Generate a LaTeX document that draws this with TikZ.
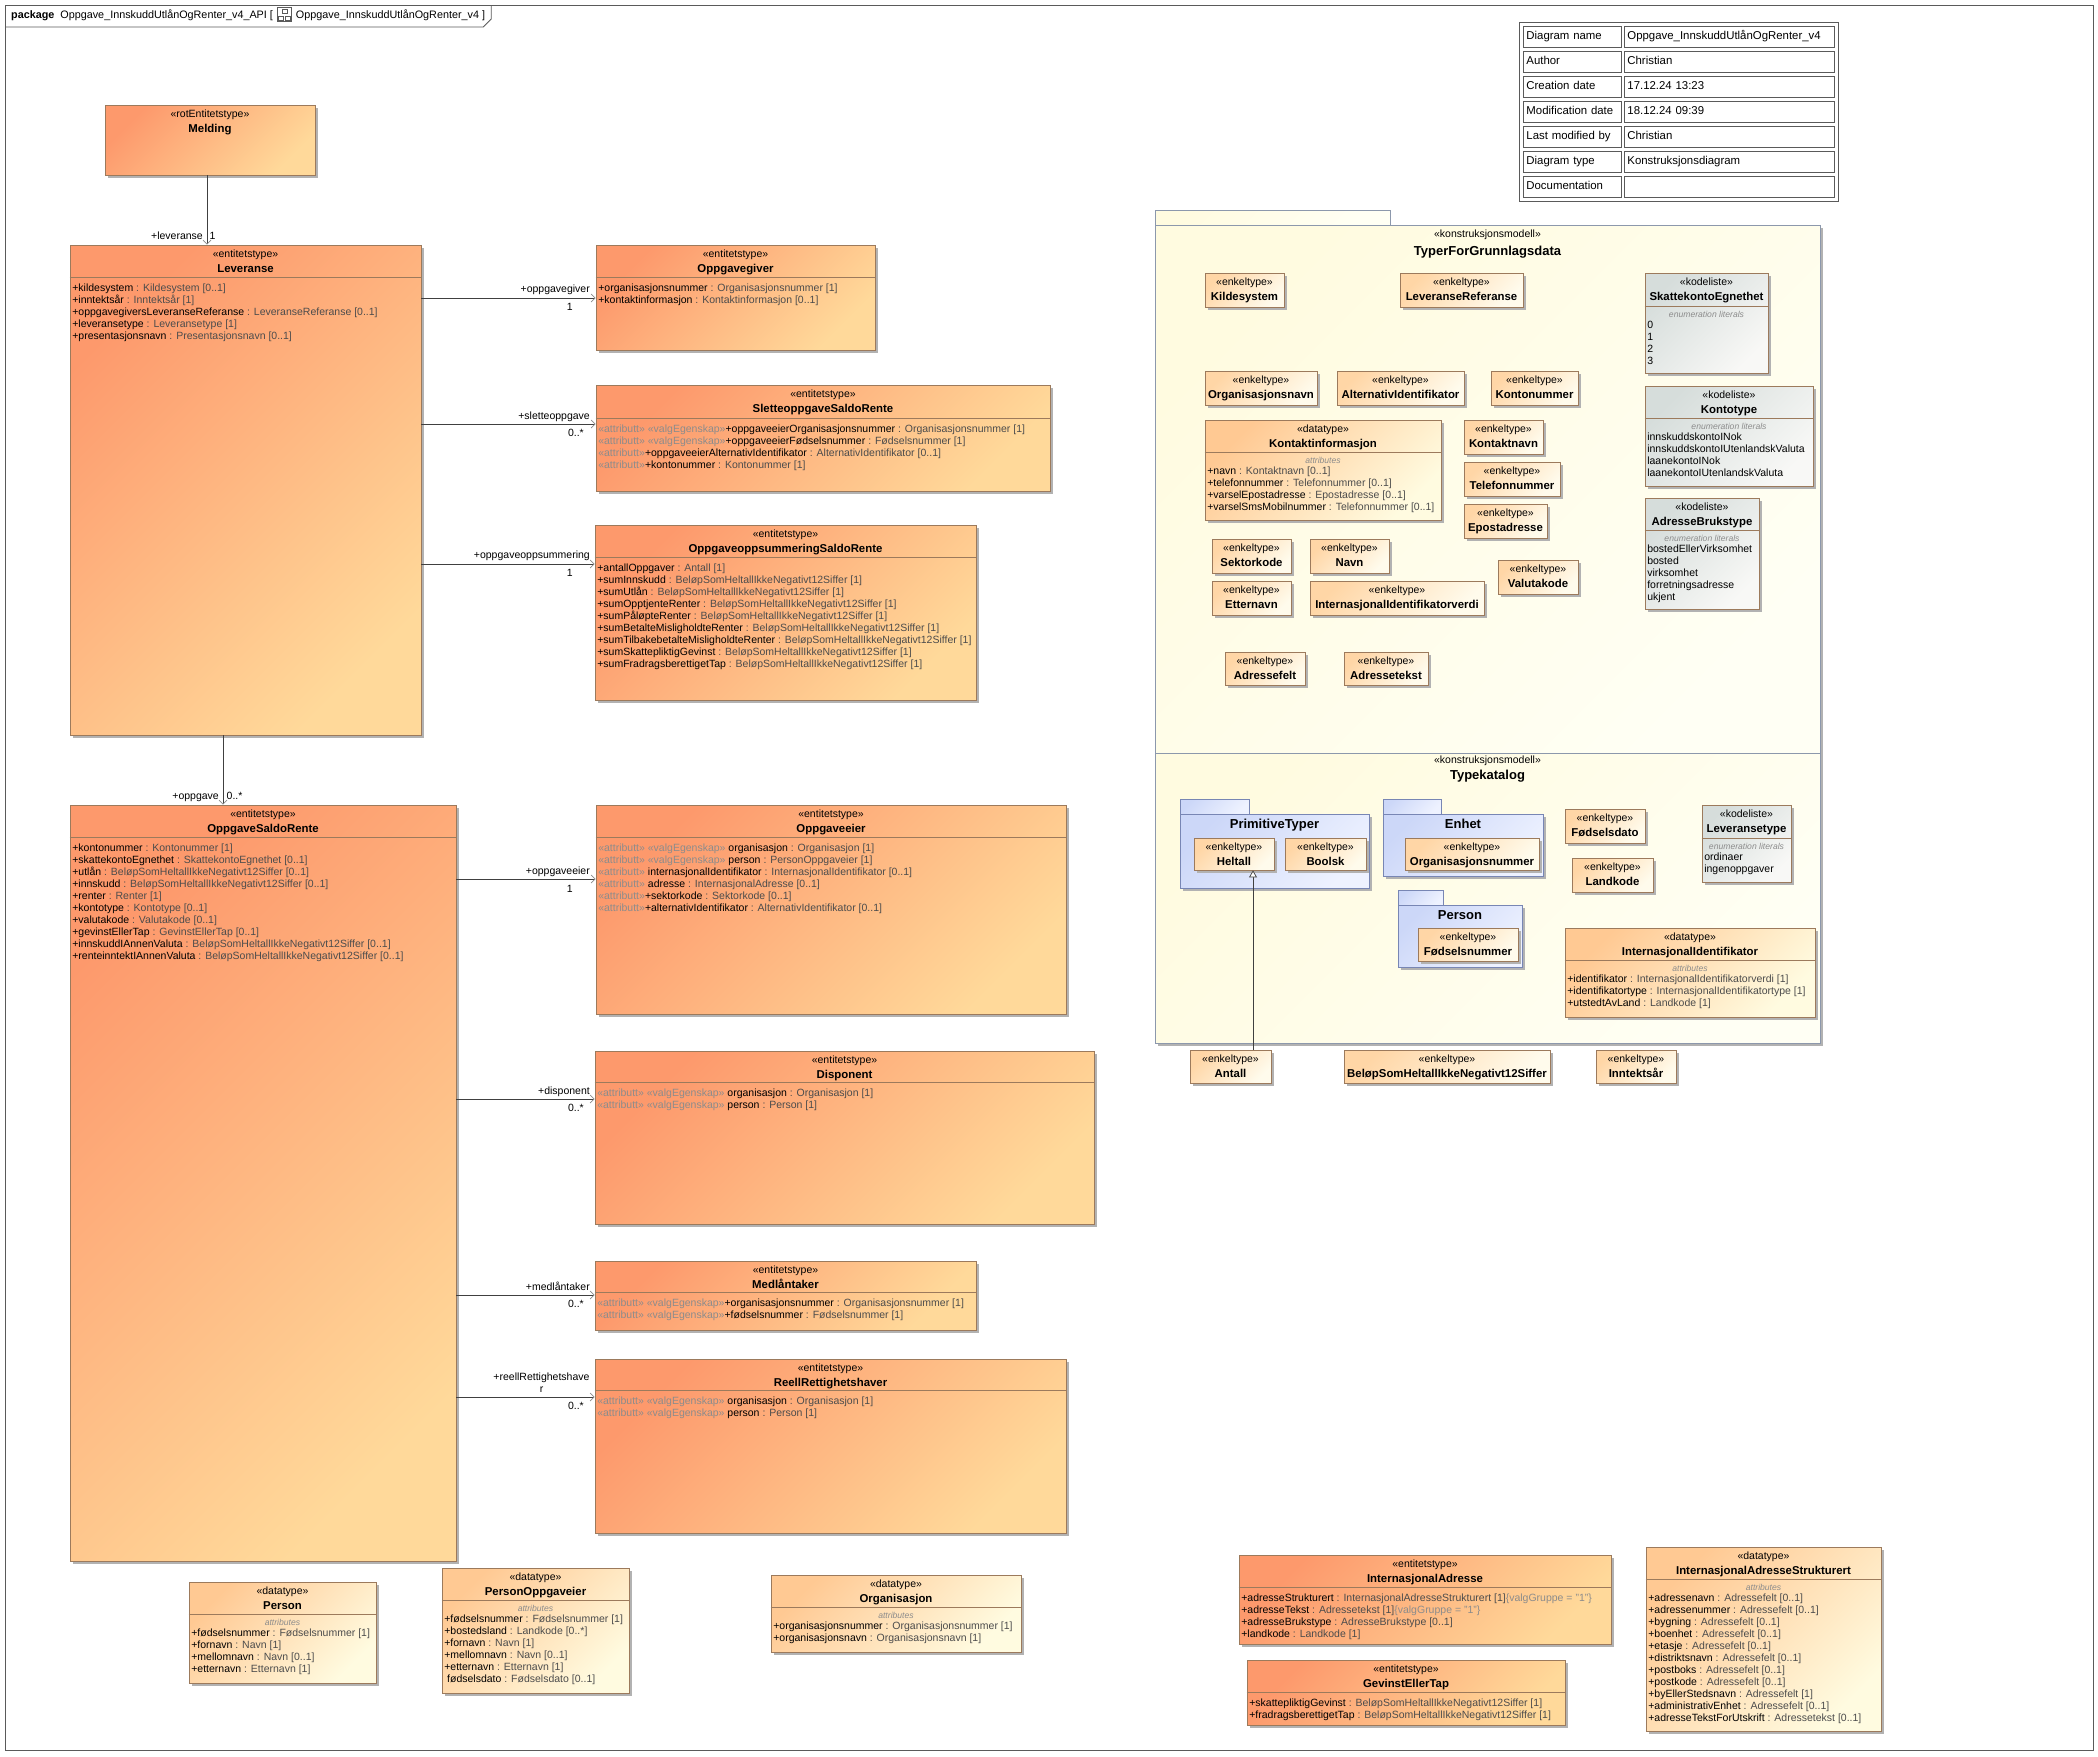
\documentclass[tikz,border=0pt]{standalone}
\usepackage{fontspec}
\setmainfont{Liberation Sans}
\usetikzlibrary{arrows.meta, positioning, fit}

\definecolor{entA}{HTML}{FD996C}
\definecolor{entB}{HTML}{FFD99A}
\definecolor{dtA}{HTML}{FFC993}
\definecolor{dtB}{HTML}{FFFBE0}
\definecolor{enkA}{HTML}{FFD6A6}
\definecolor{enkB}{HTML}{FFFBEC}
\definecolor{kodA}{HTML}{D6DDDB}
\definecolor{kodB}{HTML}{F8F8F6}
\definecolor{pkgA}{HTML}{CCD7F8}
\definecolor{pkgB}{HTML}{EEF2FF}
\definecolor{modA}{HTML}{FFFBE0}
\definecolor{modB}{HTML}{FFFFF4}
\definecolor{boxc}{HTML}{9C7A5C}
\definecolor{pkgc}{HTML}{7886B4}
\definecolor{modc}{HTML}{8C98AC}
\definecolor{shadc}{HTML}{B2B2B2}
\definecolor{linec}{HTML}{404040}
\definecolor{arrc}{HTML}{8A8A8A}
\definecolor{typec}{HTML}{4C4C4C}
\definecolor{stc}{HTML}{8C8C8C}
\definecolor{framec}{HTML}{5A5A5A}

\newcommand{\fattr}{\fontsize{10.5}{12}\selectfont}
\newcommand{\fname}{\fontsize{11.4}{13}\selectfont\bfseries}
\newcommand{\fsec}{\fontsize{8.6}{10}\selectfont\itshape}
\newcommand{\fpkg}{\fontsize{13}{15}\selectfont\bfseries}
\newcommand{\fmeta}{\fontsize{11.4}{13}\selectfont}
\newcommand{\fhdr}{\fontsize{10.8}{13}\selectfont}

\newcommand{\ty}[1]{\textcolor{typec}{#1}}
\newcommand{\stp}[1]{\textcolor{stc}{#1}}
\newcommand{\atr}[2]{#1\ \ty{: #2}}

% class box: shadow, gradient and a named frame node
\newcommand{\umlbox}[6]{%
  \fill[shadc] ({#2+3},{#3+3}) rectangle ({#4+3},{#5+3});
  \shade[#6] (#2,#3) rectangle (#4,#5);
  \node[boxframe, fit={(#2,#3) (#4,#5)}] (#1) {};
}
% stereotype and name
\newcommand{\umlhead}[3]{%
  \node[stereo, anchor=base] (#1-st) at ([yshift=-13pt]#1.north) {«#2»};
  \node[clsname, anchor=base] (#1-nm) at ([yshift=-28pt]#1.north) {#3};
}
% compartment line
\newcommand{\umlsep}[2]{%
  \draw[sepline] ([yshift=-#2pt]#1.north west) coordinate (#1-sep)
    -- ([yshift=-#2pt]#1.north east) coordinate[midway] (#1-sepc);
}
\newcommand{\umlattrs}[2]{%
  \node[attrs, anchor=north west] (#1-at) at ([shift={(2.5pt,-5pt)}]#1-sep) {\rule{0pt}{8.5pt}#2};
}
\newcommand{\umlsec}[3]{%
  \node[seclabel, anchor=base] (#1-lb) at ([yshift=-11pt]#1-sepc) {#2};
  \node[attrs, anchor=north west] (#1-at) at ([shift={(2.5pt,-13.5pt)}]#1-sep) {\rule{0pt}{8.5pt}#3};
}
% small package: name, tabL, tabT, tabR, bodyT, bodyR, bodyB, title
\newcommand{\umlpkg}[8]{%
  \fill[shadc] ({#2+3},{#5+3}) rectangle ({#6+3},{#7+3});
  \shade[pkgfill] (#2,#3) rectangle (#4,#5);
  \draw[pkgc, line width=0.8pt] (#2,#5) -- (#2,#3) -- (#4,#3) -- (#4,#5);
  \shade[pkgfill] (#2,#5) rectangle (#6,#7);
  \node[draw=pkgc, line width=0.8pt, inner sep=0pt, fit={(#2,#5) (#6,#7)}] (#1) {};
  \node[pkgname, anchor=base] (#1-nm) at ([yshift=-14.5pt]#1.north) {#8};
}

\tikzset{
  boxframe/.style={draw=boxc, line width=0.8pt, inner sep=0pt},
  sepline/.style={draw=boxc, line width=0.8pt},
  entfill/.style={top color=entA, bottom color=entB, shading angle=45},
  dtfill/.style={top color=dtA, bottom color=dtB, shading angle=45},
  enkfill/.style={top color=enkA, bottom color=enkB, shading angle=45},
  kodfill/.style={top color=kodA, bottom color=kodB, shading angle=45},
  pkgfill/.style={top color=pkgA, bottom color=pkgB, shading angle=45},
  modfill/.style={top color=modA, bottom color=modB, shading angle=45},
  stereo/.style={font=\fattr, inner sep=0pt},
  clsname/.style={font=\fname, inner sep=0pt},
  pkgname/.style={font=\fpkg, inner sep=0pt},
  attrs/.style={font=\fattr, align=left, inner sep=0pt},
  seclabel/.style={font=\fsec, text=stc, inner sep=0pt},
  lbl/.style={font=\fattr, inner sep=0pt},
  mcell/.style={draw=framec, line width=0.8pt, inner xsep=3pt, inner ysep=0pt,
    minimum height=21pt, font=\fmeta, align=left, text height=8.5pt, text depth=2.5pt},
  assoc/.style={draw=linec, line width=0.8pt,
    -{Straight Barb[length=4pt, width=8pt, line width=0.7pt, color=arrc]}},
  gen/.style={draw=linec, line width=0.8pt,
    -{Triangle[length=7pt, width=8pt, line width=0.7pt, fill=white]}},
}

\begin{document}
\begin{tikzpicture}[x=1pt, y=-1pt]
\useasboundingbox (0,0) rectangle (2098,1756);

% diagram frame
\draw[framec, line width=0.8pt] (5,5) rectangle (2093,1750);
\node[font=\fhdr, inner sep=0pt, anchor=base west] (hdr) at (11,18)
  {\textbf{package}\ \ Oppgave\_InnskuddUtlånOgRenter\_v4\_API [};
\node[draw=framec, line width=0.6pt, minimum width=14pt, minimum height=14pt, inner sep=0pt,
  right=4pt of hdr] (hdricon) {};
\draw[framec, line width=0.5pt] ([shift={(-2.5pt,-2pt)}]hdricon.north) rectangle ([shift={(2.5pt,-6pt)}]hdricon.north);
\draw[framec, line width=0.5pt] ([shift={(-6pt,2pt)}]hdricon.south) rectangle ([shift={(-1pt,6pt)}]hdricon.south);
\draw[framec, line width=0.5pt] ([shift={(1pt,2pt)}]hdricon.south) rectangle ([shift={(6pt,6pt)}]hdricon.south);
\node[font=\fhdr, inner sep=0pt, right=4pt of hdricon] (hdr2) {Oppgave\_InnskuddUtlånOgRenter\_v4 ]};
\draw[framec, line width=0.8pt] (5,27) -- ([xshift=-2pt]hdr2.east |- 0,27)
  -- ([xshift=6pt]hdr2.east |- 0,19) -- ([xshift=6pt]hdr2.east |- 0,5);

% diagram info table
\draw[framec, line width=0.8pt] (1519,22) rectangle (1838,201);
\foreach \k/\a/\b in {0/Diagram name/Oppgave\_InnskuddUtlånOgRenter\_v4, 1/Author/Christian,
    2/Creation date/17.12.24 13:23, 3/Modification date/18.12.24 09:39,
    4/Last modified by/Christian, 5/Diagram type/Konstruksjonsdiagram, 6/Documentation/} {
  \node[mcell, text width=92pt, anchor=north west] (md-a\k) at (1523, {26+25*\k}) {\a};
  \node[mcell, text width=204pt, anchor=north west] (md-b\k) at (1624, {26+25*\k}) {\b};
}

% model packages
\fill[shadc] (1158,228) rectangle (1823,1046);
\shade[modfill] (1155,210) rectangle (1390,225);
\draw[modc, line width=0.8pt] (1155,225) -- (1155,210) -- (1390,210) -- (1390,225);
\shade[modfill] (1155,225) rectangle (1820,753);
\node[draw=modc, line width=0.8pt, inner sep=0pt, fit={(1155,225) (1820,753)}] (tgd) {};
\node[stereo, anchor=base] (tgd-st) at ([yshift=-12.5pt]tgd.north) {«konstruksjonsmodell»};
\node[pkgname, anchor=base] (tgd-nm) at ([yshift=-30.5pt]tgd.north) {TyperForGrunnlagsdata};
\shade[modfill] (1155,753) rectangle (1820,1043);
\node[draw=modc, line width=0.8pt, inner sep=0pt, fit={(1155,753) (1820,1043)}] (tkat) {};
\node[stereo, anchor=base] (tkat-st) at ([yshift=-10.5pt]tkat.north) {«konstruksjonsmodell»};
\node[pkgname, anchor=base] (tkat-nm) at ([yshift=-26.5pt]tkat.north) {Typekatalog};

% simple types in TyperForGrunnlagsdata
\umlbox{kilde}{1205}{273}{1284}{307}{enkfill} \umlhead{kilde}{enkeltype}{Kildesystem}
\umlbox{levref}{1400}{273}{1523}{307}{enkfill} \umlhead{levref}{enkeltype}{LeveranseReferanse}
\umlbox{orgnavn}{1205}{371}{1317}{405}{enkfill} \umlhead{orgnavn}{enkeltype}{Organisasjonsnavn}
\umlbox{altid}{1337}{371}{1464}{405}{enkfill} \umlhead{altid}{enkeltype}{AlternativIdentifikator}
\umlbox{konto}{1491}{371}{1578}{405}{enkfill} \umlhead{konto}{enkeltype}{Kontonummer}
\umlbox{ktnavn}{1464}{420}{1543}{454}{enkfill} \umlhead{ktnavn}{enkeltype}{Kontaktnavn}
\umlbox{tlf}{1464}{462}{1560}{496}{enkfill} \umlhead{tlf}{enkeltype}{Telefonnummer}
\umlbox{epost}{1464}{504}{1547}{538}{enkfill} \umlhead{epost}{enkeltype}{Epostadresse}
\umlbox{sektor}{1212}{539}{1291}{573}{enkfill} \umlhead{sektor}{enkeltype}{Sektorkode}
\umlbox{navn}{1310}{539}{1389}{573}{enkfill} \umlhead{navn}{enkeltype}{Navn}
\umlbox{valuta}{1498}{560}{1578}{594}{enkfill} \umlhead{valuta}{enkeltype}{Valutakode}
\umlbox{ettern}{1212}{581}{1291}{615}{enkfill} \umlhead{ettern}{enkeltype}{Etternavn}
\umlbox{iidv}{1310}{581}{1484}{615}{enkfill} \umlhead{iidv}{enkeltype}{InternasjonalIdentifikatorverdi}
\umlbox{adrf}{1225}{652}{1305}{685}{enkfill} \umlhead{adrf}{enkeltype}{Adressefelt}
\umlbox{adrt}{1344}{652}{1428}{685}{enkfill} \umlhead{adrt}{enkeltype}{Adressetekst}

\umlbox{kinfo}{1205}{420}{1441}{520}{dtfill} \umlhead{kinfo}{datatype}{Kontaktinformasjon}
\umlsep{kinfo}{33}
\umlsec{kinfo}{attributes}{\atr{+navn}{Kontaktnavn [0..1]}\\
  \atr{+telefonnummer}{Telefonnummer [0..1]}\\
  \atr{+varselEpostadresse}{Epostadresse [0..1]}\\
  \atr{+varselSmsMobilnummer}{Telefonnummer [0..1]}}

% code lists
\umlbox{skeg}{1645}{273}{1768}{373}{kodfill} \umlhead{skeg}{kodeliste}{SkattekontoEgnethet}
\umlsep{skeg}{34}
\umlsec{skeg}{enumeration literals}{0\\1\\2\\3}
\umlbox{ktyp}{1645}{386}{1813}{486}{kodfill} \umlhead{ktyp}{kodeliste}{Kontotype}
\umlsep{ktyp}{33}
\umlsec{ktyp}{enumeration literals}{innskuddskontoINok\\innskuddskontoIUtenlandskValuta\\
  laanekontoINok\\laanekontoIUtenlandskValuta}
\umlbox{abt}{1645}{498}{1759}{609}{kodfill} \umlhead{abt}{kodeliste}{AdresseBrukstype}
\umlsep{abt}{33}
\umlsec{abt}{enumeration literals}{bostedEllerVirksomhet\\bosted\\virksomhet\\forretningsadresse\\ukjent}

% Typekatalog content
\umlpkg{ptyp}{1180}{799}{1249}{814}{1369}{888}{PrimitiveTyper}
\umlpkg{enhet}{1383}{799}{1441}{814}{1543}{876}{Enhet}
\umlpkg{ppkg}{1398}{890}{1443}{905}{1522}{967}{Person}
\umlbox{heltall}{1194}{838}{1274}{870}{enkfill} \umlhead{heltall}{enkeltype}{Heltall}
\umlbox{boolsk}{1285}{838}{1366}{870}{enkfill} \umlhead{boolsk}{enkeltype}{Boolsk}
\umlbox{orgnr}{1405}{838}{1539}{870}{enkfill} \umlhead{orgnr}{enkeltype}{Organisasjonsnummer}
\umlbox{fnr}{1418}{928}{1518}{961}{enkfill} \umlhead{fnr}{enkeltype}{Fødselsnummer}
\umlbox{fdato}{1565}{809}{1645}{843}{enkfill} \umlhead{fdato}{enkeltype}{Fødselsdato}
\umlbox{landk}{1572}{858}{1653}{892}{enkfill} \umlhead{landk}{enkeltype}{Landkode}
\umlbox{ltyp}{1702}{805}{1791}{882}{kodfill} \umlhead{ltyp}{kodeliste}{Leveransetype}
\umlsep{ltyp}{34}
\umlsec{ltyp}{enumeration literals}{ordinaer\\ingenoppgaver}
\umlbox{iid}{1565}{928}{1815}{1017}{dtfill} \umlhead{iid}{datatype}{InternasjonalIdentifikator}
\umlsep{iid}{33}
\umlsec{iid}{attributes}{\atr{+identifikator}{InternasjonalIdentifikatorverdi [1]}\\
  \atr{+identifikatortype}{InternasjonalIdentifikatortype [1]}\\
  \atr{+utstedtAvLand}{Landkode [1]}}

% simple types below the packages
\umlbox{antall}{1190}{1050}{1271}{1083}{enkfill} \umlhead{antall}{enkeltype}{Antall}
\umlbox{belop}{1344}{1050}{1550}{1083}{enkfill} \umlhead{belop}{enkeltype}{BeløpSomHeltallIkkeNegativt12Siffer}
\umlbox{intar}{1596}{1050}{1676}{1083}{enkfill} \umlhead{intar}{enkeltype}{Inntektsår}

% entities
\umlbox{meld}{105}{105}{315}{175}{entfill} \umlhead{meld}{rotEntitetstype}{Melding}

\umlbox{lev}{70}{245}{421}{735}{entfill} \umlhead{lev}{entitetstype}{Leveranse}
\umlsep{lev}{33}
\umlattrs{lev}{\atr{+kildesystem}{Kildesystem [0..1]}\\
  \atr{+inntektsår}{Inntektsår [1]}\\
  \atr{+oppgavegiversLeveranseReferanse}{LeveranseReferanse [0..1]}\\
  \atr{+leveransetype}{Leveransetype [1]}\\
  \atr{+presentasjonsnavn}{Presentasjonsnavn [0..1]}}

\umlbox{ogiv}{596}{245}{875}{350}{entfill} \umlhead{ogiv}{entitetstype}{Oppgavegiver}
\umlsep{ogiv}{33}
\umlattrs{ogiv}{\atr{+organisasjonsnummer}{Organisasjonsnummer [1]}\\
  \atr{+kontaktinformasjon}{Kontaktinformasjon [0..1]}}

\umlbox{slet}{596}{385}{1050}{491}{entfill} \umlhead{slet}{entitetstype}{SletteoppgaveSaldoRente}
\umlsep{slet}{34}
\umlattrs{slet}{\stp{«attributt» «valgEgenskap»}\atr{+oppgaveeierOrganisasjonsnummer}{Organisasjonsnummer [1]}\\
  \stp{«attributt» «valgEgenskap»}\atr{+oppgaveeierFødselsnummer}{Fødselsnummer [1]}\\
  \stp{«attributt»}\atr{+oppgaveeierAlternativIdentifikator}{AlternativIdentifikator [0..1]}\\
  \stp{«attributt»}\atr{+kontonummer}{Kontonummer [1]}}

\umlbox{opps}{595}{525}{976}{700}{entfill} \umlhead{opps}{entitetstype}{OppgaveoppsummeringSaldoRente}
\umlsep{opps}{33}
\umlattrs{opps}{\atr{+antallOppgaver}{Antall [1]}\\
  \atr{+sumInnskudd}{BeløpSomHeltallIkkeNegativt12Siffer [1]}\\
  \atr{+sumUtlån}{BeløpSomHeltallIkkeNegativt12Siffer [1]}\\
  \atr{+sumOpptjenteRenter}{BeløpSomHeltallIkkeNegativt12Siffer [1]}\\
  \atr{+sumPåløpteRenter}{BeløpSomHeltallIkkeNegativt12Siffer [1]}\\
  \atr{+sumBetalteMisligholdteRenter}{BeløpSomHeltallIkkeNegativt12Siffer [1]}\\
  \atr{+sumTilbakebetalteMisligholdteRenter}{BeløpSomHeltallIkkeNegativt12Siffer [1]}\\
  \atr{+sumSkattepliktigGevinst}{BeløpSomHeltallIkkeNegativt12Siffer [1]}\\
  \atr{+sumFradragsberettigetTap}{BeløpSomHeltallIkkeNegativt12Siffer [1]}}

\umlbox{osr}{70}{805}{456}{1561}{entfill} \umlhead{osr}{entitetstype}{OppgaveSaldoRente}
\umlsep{osr}{33}
\umlattrs{osr}{\atr{+kontonummer}{Kontonummer [1]}\\
  \atr{+skattekontoEgnethet}{SkattekontoEgnethet [0..1]}\\
  \atr{+utlån}{BeløpSomHeltallIkkeNegativt12Siffer [0..1]}\\
  \atr{+innskudd}{BeløpSomHeltallIkkeNegativt12Siffer [0..1]}\\
  \atr{+renter}{Renter [1]}\\
  \atr{+kontotype}{Kontotype [0..1]}\\
  \atr{+valutakode}{Valutakode [0..1]}\\
  \atr{+gevinstEllerTap}{GevinstEllerTap [0..1]}\\
  \atr{+innskuddIAnnenValuta}{BeløpSomHeltallIkkeNegativt12Siffer [0..1]}\\
  \atr{+renteinntektIAnnenValuta}{BeløpSomHeltallIkkeNegativt12Siffer [0..1]}}

\umlbox{oeier}{596}{805}{1066}{1014}{entfill} \umlhead{oeier}{entitetstype}{Oppgaveeier}
\umlsep{oeier}{33}
\umlattrs{oeier}{\stp{«attributt» «valgEgenskap»} \atr{organisasjon}{Organisasjon [1]}\\
  \stp{«attributt» «valgEgenskap»} \atr{person}{PersonOppgaveier [1]}\\
  \stp{«attributt»} \atr{internasjonalIdentifikator}{InternasjonalIdentifikator [0..1]}\\
  \stp{«attributt»} \atr{adresse}{InternasjonalAdresse [0..1]}\\
  \stp{«attributt»}\atr{+sektorkode}{Sektorkode [0..1]}\\
  \stp{«attributt»}\atr{+alternativIdentifikator}{AlternativIdentifikator [0..1]}}

\umlbox{disp}{595}{1051}{1094}{1224}{entfill} \umlhead{disp}{entitetstype}{Disponent}
\umlsep{disp}{32}
\umlattrs{disp}{\stp{«attributt» «valgEgenskap»} \atr{organisasjon}{Organisasjon [1]}\\
  \stp{«attributt» «valgEgenskap»} \atr{person}{Person [1]}}

\umlbox{medl}{595}{1261}{976}{1330}{entfill} \umlhead{medl}{entitetstype}{Medlåntaker}
\umlsep{medl}{32}
\umlattrs{medl}{\stp{«attributt» «valgEgenskap»}\atr{+organisasjonsnummer}{Organisasjonsnummer [1]}\\
  \stp{«attributt» «valgEgenskap»}\atr{+fødselsnummer}{Fødselsnummer [1]}}

\umlbox{reell}{595}{1359}{1066}{1533}{entfill} \umlhead{reell}{entitetstype}{ReellRettighetshaver}
\umlsep{reell}{32}
\umlattrs{reell}{\stp{«attributt» «valgEgenskap»} \atr{organisasjon}{Organisasjon [1]}\\
  \stp{«attributt» «valgEgenskap»} \atr{person}{Person [1]}}

% data types at the bottom
\umlbox{pers}{189}{1582}{376}{1683}{dtfill} \umlhead{pers}{datatype}{Person}
\umlsep{pers}{33}
\umlsec{pers}{attributes}{\atr{+fødselsnummer}{Fødselsnummer [1]}\\
  \atr{+fornavn}{Navn [1]}\\
  \atr{+mellomnavn}{Navn [0..1]}\\
  \atr{+etternavn}{Etternavn [1]}}

\umlbox{poeier}{442}{1568}{629}{1693}{dtfill} \umlhead{poeier}{datatype}{PersonOppgaveier}
\umlsep{poeier}{33}
\umlsec{poeier}{attributes}{\atr{+fødselsnummer}{Fødselsnummer [1]}\\
  \atr{+bostedsland}{Landkode [0..*]}\\
  \atr{+fornavn}{Navn [1]}\\
  \atr{+mellomnavn}{Navn [0..1]}\\
  \atr{+etternavn}{Etternavn [1]}\\
  \ \atr{fødselsdato}{Fødselsdato [0..1]}}

\umlbox{org}{771}{1575}{1021}{1652}{dtfill} \umlhead{org}{datatype}{Organisasjon}
\umlsep{org}{33}
\umlsec{org}{attributes}{\atr{+organisasjonsnummer}{Organisasjonsnummer [1]}\\
  \atr{+organisasjonsnavn}{Organisasjonsnavn [1]}}

\umlbox{iadr}{1239}{1555}{1611}{1644}{entfill} \umlhead{iadr}{entitetstype}{InternasjonalAdresse}
\umlsep{iadr}{33}
\umlattrs{iadr}{\atr{+adresseStrukturert}{InternasjonalAdresseStrukturert [1]\textcolor{stc}{\{valgGruppe = "1"\}}}\\
  \atr{+adresseTekst}{Adressetekst [1]\textcolor{stc}{\{valgGruppe = "1"\}}}\\
  \atr{+adresseBrukstype}{AdresseBrukstype [0..1]}\\
  \atr{+landkode}{Landkode [1]}}

\umlbox{gevt}{1247}{1660}{1565}{1725}{entfill} \umlhead{gevt}{entitetstype}{GevinstEllerTap}
\umlsep{gevt}{33}
\umlattrs{gevt}{\atr{+skattepliktigGevinst}{BeløpSomHeltallIkkeNegativt12Siffer [1]}\\
  \atr{+fradragsberettigetTap}{BeløpSomHeltallIkkeNegativt12Siffer [1]}}

\umlbox{iads}{1646}{1547}{1881}{1731}{dtfill} \umlhead{iads}{datatype}{InternasjonalAdresseStrukturert}
\umlsep{iads}{33}
\umlsec{iads}{attributes}{\atr{+adressenavn}{Adressefelt [0..1]}\\
  \atr{+adressenummer}{Adressefelt [0..1]}\\
  \atr{+bygning}{Adressefelt [0..1]}\\
  \atr{+boenhet}{Adressefelt [0..1]}\\
  \atr{+etasje}{Adressefelt [0..1]}\\
  \atr{+distriktsnavn}{Adressefelt [0..1]}\\
  \atr{+postboks}{Adressefelt [0..1]}\\
  \atr{+postkode}{Adressefelt [0..1]}\\
  \atr{+byEllerStedsnavn}{Adressefelt [1]}\\
  \atr{+administrativEnhet}{Adressefelt [0..1]}\\
  \atr{+adresseTekstForUtskrift}{Adressetekst [0..1]}}

% associations
\draw[assoc] (meld.south -| 207,0) -- (lev.north -| 207,0);
\node[lbl, anchor=base east] (lev-rl) at (203,239.5) {+leveranse};
\node[lbl, anchor=base west] (lev-ml) at (209.5,239.5) {1};

\draw[assoc] (lev.east |- 0,298) -- (ogiv.west |- 0,298);
\node[lbl, anchor=base east] (ogiv-rl) at (590,292.5) {+oppgavegiver};
\node[lbl, anchor=base east] (ogiv-ml) at (573,310.5) {1};

\draw[assoc] (lev.east |- 0,424) -- (slet.west |- 0,424);
\node[lbl, anchor=base east] (slet-rl) at (590,419.5) {+sletteoppgave};
\node[lbl, anchor=base east] (slet-ml) at (584,436.5) {0..*};

\draw[assoc] (lev.east |- 0,564) -- (opps.west |- 0,564);
\node[lbl, anchor=base east] (opps-rl) at (590,558.5) {+oppgaveoppsummering};
\node[lbl, anchor=base east] (opps-ml) at (573,576.5) {1};

\draw[assoc] (lev.south -| 223,0) -- (osr.north -| 223,0);
\node[lbl, anchor=base east] (osr-rl) at (219,799.5) {+oppgave};
\node[lbl, anchor=base west] (osr-ml) at (226.5,799.5) {0..*};

\draw[assoc] (osr.east |- 0,879) -- (oeier.west |- 0,879);
\node[lbl, anchor=base east] (oeier-rl) at (590,874.5) {+oppgaveeier};
\node[lbl, anchor=base east] (oeier-ml) at (573,892.5) {1};

\draw[assoc] (osr.east |- 0,1099) -- (disp.west |- 0,1099);
\node[lbl, anchor=base east] (disp-rl) at (590,1094.5) {+disponent};
\node[lbl, anchor=base east] (disp-ml) at (584,1111.5) {0..*};

\draw[assoc] (osr.east |- 0,1295) -- (medl.west |- 0,1295);
\node[lbl, anchor=base east] (medl-rl) at (590,1290.5) {+medlåntaker};
\node[lbl, anchor=base east] (medl-ml) at (584,1307.5) {0..*};

\draw[assoc] (osr.east |- 0,1397) -- (reell.west |- 0,1397);
\node[lbl, align=center, anchor=north] (reell-rl) at (541.5,1372) {\rule{0pt}{8.5pt}+reellRettighetshave\\r};
\node[lbl, anchor=base east] (reell-ml) at (584,1409.5) {0..*};

% generalization
\draw[gen] (antall.north -| 1253,0) -- (heltall.south -| 1253,0);
\end{tikzpicture}
\end{document}
